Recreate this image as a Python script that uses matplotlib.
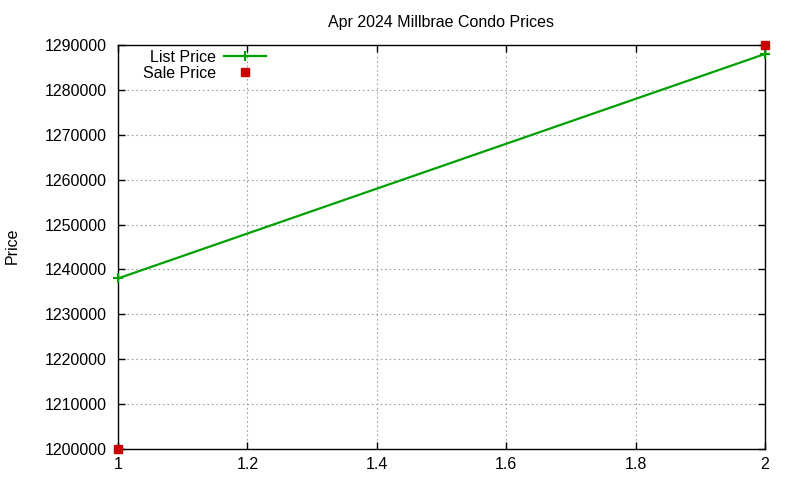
import matplotlib
matplotlib.use("Agg")
import matplotlib.pyplot as plt

plt.rcParams['font.family'] = ['Liberation Sans', 'DejaVu Sans']
plt.rcParams['font.size'] = 11.5

# data
x_vals = [1, 2]
list_price = [1238000, 1288000]
sale_price = [1200000, 1290000]
x_ticks = [1, 1.2, 1.4, 1.6, 1.8, 2]
y_ticks = list(range(1200000, 1290001, 10000))

fig = plt.figure(figsize=(8, 4.8), dpi=100)
ax = fig.add_axes([118 / 800, 1 - 449 / 480, (765 - 118) / 800, (449 - 45) / 480])

ax.plot(x_vals, list_price, color='#00a000', lw=1.6, marker='+', ms=7, mew=1.5,
        label='List Price', clip_on=False, zorder=3)
ax.plot(x_vals, sale_price, ls='none', marker='s', ms=6, color='#cc0000',
        label='Sale Price', clip_on=False, zorder=4)

ax.set_xlim(1, 2)
ax.set_ylim(1200000, 1290000)
ax.set_xticks(x_ticks)
ax.set_xticklabels(['1', '1.2', '1.4', '1.6', '1.8', '2'])
ax.set_yticks(y_ticks)
ax.set_yticklabels([str(v) for v in y_ticks])
ax.tick_params(direction='in', length=5, width=1, top=True, right=True,
               color='black', labelsize=11.5, pad=8)
ax.tick_params(axis='x', pad=6)
ax.grid(True, ls=(0, (1.5, 2.5)), color='#a0a0a0', lw=0.8)
for s in ax.spines.values():
    s.set_linewidth(1.0)

ax.set_title('Apr 2024 Millbrae Condo Prices', fontsize=11.5, pad=13)
fig.text(12 / 800, 1 - 246 / 480, 'Price', rotation=90, va='center', ha='center', fontsize=11.5)

leg = ax.legend(loc='upper left', bbox_to_anchor=(0.024, 1.012), frameon=False,
                markerfirst=False, handlelength=2.6, borderpad=0.1,
                labelspacing=0.05, handletextpad=0.5)
for t in leg.get_texts():
    t.set_ha('right')
leg._legend_box.align = 'right'

fig.savefig('out.png', dpi=100)
